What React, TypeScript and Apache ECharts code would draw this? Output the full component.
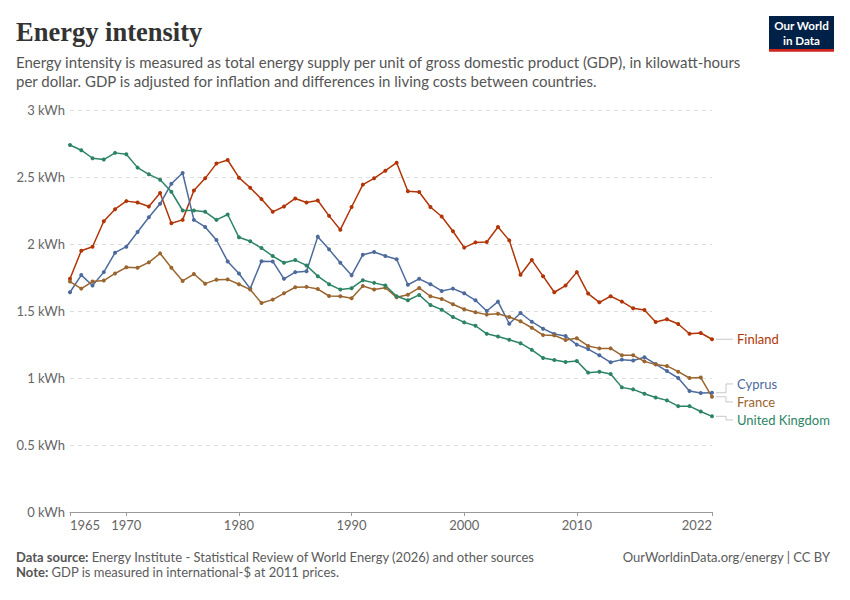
import React, { useEffect, useRef } from "react";
import * as echarts from "echarts";

const startYear = 1965;
const endYear = 2022;
const years: number[] = [];
for (let y = startYear; y <= endYear; y++) years.push(y);

const tickYears = [1965, 1970, 1980, 1990, 2000, 2010, 2022];
const yTicks = [0, 0.5, 1, 1.5, 2, 2.5, 3];

const finland = [
  1.74, 1.95, 1.98, 2.17, 2.26, 2.32, 2.31, 2.28, 2.38, 2.155,
  2.18, 2.4, 2.49, 2.6, 2.627, 2.495, 2.42, 2.335, 2.24, 2.28,
  2.34, 2.31, 2.325, 2.21, 2.107, 2.276, 2.443, 2.49, 2.547, 2.607,
  2.393, 2.388, 2.276, 2.205, 2.095, 1.973, 2.012, 2.015, 2.127, 2.027,
  1.77, 1.88, 1.76, 1.64, 1.69, 1.79, 1.63, 1.565, 1.61, 1.57,
  1.52, 1.507, 1.418, 1.438, 1.403, 1.33, 1.336, 1.289,
];
const cyprus = [
  1.64, 1.768, 1.69, 1.79, 1.935, 1.98, 2.09, 2.2, 2.3, 2.45,
  2.53, 2.18, 2.127, 2.03, 1.87, 1.78, 1.667, 1.872, 1.87, 1.74,
  1.79, 1.796, 2.055, 1.96, 1.86, 1.766, 1.92, 1.94, 1.91, 1.886,
  1.696, 1.74, 1.7, 1.65, 1.667, 1.632, 1.58, 1.5, 1.57, 1.405,
  1.485, 1.42, 1.368, 1.328, 1.313, 1.249, 1.216, 1.169, 1.117, 1.137,
  1.13, 1.155, 1.104, 1.052, 1.0, 0.903, 0.888, 0.89,
];
const france = [
  1.72, 1.667, 1.72, 1.727, 1.78, 1.826, 1.823, 1.863, 1.93, 1.823,
  1.724, 1.776, 1.704, 1.734, 1.736, 1.7, 1.66, 1.56, 1.585, 1.632,
  1.677, 1.68, 1.664, 1.612, 1.61, 1.595, 1.687, 1.66, 1.674, 1.602,
  1.622, 1.672, 1.61, 1.59, 1.55, 1.513, 1.49, 1.473, 1.48, 1.455,
  1.423, 1.375, 1.32, 1.318, 1.284, 1.296, 1.239, 1.221, 1.221, 1.169,
  1.169, 1.124, 1.1, 1.09, 1.047, 1.0, 1.003, 0.86,
];
const unitedKingdom = [
  2.739, 2.7, 2.64, 2.63, 2.68, 2.67, 2.57, 2.52, 2.48, 2.39,
  2.25, 2.25, 2.24, 2.18, 2.22, 2.05, 2.02, 1.97, 1.91, 1.86,
  1.88, 1.84, 1.76, 1.7, 1.66, 1.67, 1.73, 1.71, 1.69, 1.61,
  1.58, 1.62, 1.545, 1.51, 1.455, 1.415, 1.39, 1.33, 1.31, 1.285,
  1.26, 1.21, 1.15, 1.135, 1.12, 1.127, 1.04, 1.047, 1.03, 0.93,
  0.915, 0.883, 0.855, 0.833, 0.79, 0.79, 0.75, 0.714,
];

const seriesNames = ["Finland", "Cyprus", "France", "United Kingdom"];
const seriesValues = [finland, cyprus, france, unitedKingdom];

const titleText = "Energy intensity";
const subtitleLines = [
  "Energy intensity is measured as total energy supply per unit of gross domestic product (GDP), in kilowatt-hours",
  "per dollar. GDP is adjusted for inflation and differences in living costs between countries.",
];
const sourceText = "Energy Institute - Statistical Review of World Energy (2026) and other sources";
const noteText = "GDP is measured in international-$ at 2011 prices.";
const creditText = "OurWorldinData.org/energy | CC BY";
const logoLines = ["Our World", "in Data"];

export default function App() {
  const ref = useRef<HTMLDivElement>(null);

  useEffect(() => {
    document.body.style.margin = "0";
    const el = ref.current;
    if (!el) return;
    const chart = echarts.init(el, null, { renderer: "svg" });
    const font = "Lato, 'Noto Sans', sans-serif";
    const colors = ["#b13507", "#4c6a9c", "#9a652e", "#2c8465"];

    chart.setOption({
      animation: false,
      grid: { left: 70, right: 138, top: 110, bottom: 88, containLabel: false },
      xAxis: {
        type: "value",
        min: startYear,
        max: endYear,
        axisLine: { show: true, lineStyle: { color: "#9a9a9a", width: 1 } },
        axisTick: {
          show: true,
          customValues: tickYears,
          length: 4,
          lineStyle: { color: "#9a9a9a" },
        },
        axisLabel: {
          customValues: tickYears,
          color: "#666",
          fontSize: 13,
          fontFamily: font,
          margin: 6,
          alignMinLabel: "left",
          alignMaxLabel: "right",
          formatter: (v: number) => String(v),
        },
        splitLine: { show: false },
      },
      yAxis: {
        type: "value",
        min: 0,
        max: 3,
        interval: 0.5,
        axisLine: { show: false },
        axisTick: { show: false },
        axisLabel: {
          customValues: yTicks,
          color: "#666",
          fontSize: 13,
          fontFamily: font,
          margin: 5,
          formatter: (v: number) => `${v} kWh`,
        },
        splitLine: { lineStyle: { color: "#dddddd", type: [4, 4], width: 1 } },
      },
      series: seriesNames.map((name, si) => ({
        type: "line",
        name,
        data: years.map((y, i) => [y, seriesValues[si][i]]),
        symbol: "circle",
        symbolSize: 4,
        showSymbol: true,
        lineStyle: { width: 1.5, color: colors[si] },
        itemStyle: { color: colors[si] },
        emphasis: { disabled: true },
        z: 3,
      })),
    });

    // End labels with connectors
    const ends = seriesNames.map((name, si) => {
      const vals = seriesValues[si];
      const p = chart.convertToPixel({ gridIndex: 0 }, [endYear, vals[vals.length - 1]]) as number[];
      return { name, color: colors[si], px: p[0], py: p[1], ly: p[1] };
    });
    const sorted = [...ends].sort((a, b) => a.py - b.py);
    const gap = 18;
    for (let it = 0; it < 200; it++) {
      for (let i = 1; i < sorted.length; i++) {
        const d = sorted[i].ly - sorted[i - 1].ly;
        if (d < gap) {
          const o = gap - d;
          sorted[i - 1].ly -= o / 2;
          sorted[i].ly += o / 2;
        }
      }
    }

    const labelEls: any[] = [];
    ends.forEach((e) => {
      const x0 = e.px + 4;
      const xm = e.px + 14;
      const x1 = e.px + 21;
      labelEls.push({
        type: "polyline",
        shape: { points: [[x0, e.py], [xm, e.py], [xm, e.ly], [x1, e.ly]] },
        style: { stroke: "#c8c8c8", fill: null, lineWidth: 1 },
        silent: true,
      });
      labelEls.push({
        type: "text",
        x: e.px + 25,
        y: e.ly,
        style: {
          text: e.name,
          fill: e.color,
          fontSize: 13,
          fontFamily: font,
          verticalAlign: "middle",
          align: "left",
        },
        silent: true,
      });
    });

    const graphics: any[] = [
      {
        type: "text",
        x: 16,
        y: 31.5,
        style: {
          text: titleText,
          fill: "#333",
          fontSize: 26.5,
          fontWeight: "bold",
          fontFamily: "'Liberation Serif', 'DejaVu Serif', serif",
          verticalAlign: "middle",
        },
      },
      ...subtitleLines.map((t, i) => ({
        type: "text",
        x: 16,
        y: 62 + i * 18.5,
        style: {
          text: t,
          fill: "#555",
          fontSize: 15,
          fontFamily: font,
          verticalAlign: "middle",
        },
      })),
      {
        type: "rect",
        shape: { x: 769, y: 16, width: 65, height: 33 },
        style: { fill: "#002147" },
      },
      {
        type: "rect",
        shape: { x: 769, y: 49, width: 65, height: 2.7 },
        style: { fill: "#ce261e" },
      },
      ...logoLines.map((t, i) => ({
        type: "text",
        x: 801.5,
        y: 25.8 + i * 14.6,
        style: {
          text: t,
          fill: "#fff",
          fontSize: 11.6,
          fontWeight: "bold",
          fontFamily: font,
          align: "center",
          verticalAlign: "middle",
        },
      })),
      {
        type: "text",
        x: 16,
        y: 556.5,
        style: {
          text: `{b|Data source:} ${sourceText}`,
          fill: "#5b5b5b",
          fontSize: 13,
          fontFamily: font,
          verticalAlign: "middle",
          rich: { b: { fontWeight: "bold", fill: "#555", fontSize: 13, fontFamily: font } },
        },
      },
      {
        type: "text",
        x: 16,
        y: 572,
        style: {
          text: `{b|Note:} ${noteText}`,
          fill: "#5b5b5b",
          fontSize: 13,
          fontFamily: font,
          verticalAlign: "middle",
          rich: { b: { fontWeight: "bold", fill: "#555", fontSize: 13, fontFamily: font } },
        },
      },
      {
        type: "text",
        x: 830,
        y: 556.5,
        style: {
          text: creditText,
          fill: "#5b5b5b",
          fontSize: 13,
          fontFamily: font,
          align: "right",
          verticalAlign: "middle",
        },
      },
      ...labelEls,
    ];

    chart.setOption({ graphic: graphics });

    return () => {
      chart.dispose();
    };
  }, []);

  return <div ref={ref} style={{ width: 850, height: 600, background: "#fff" }} />;
}
